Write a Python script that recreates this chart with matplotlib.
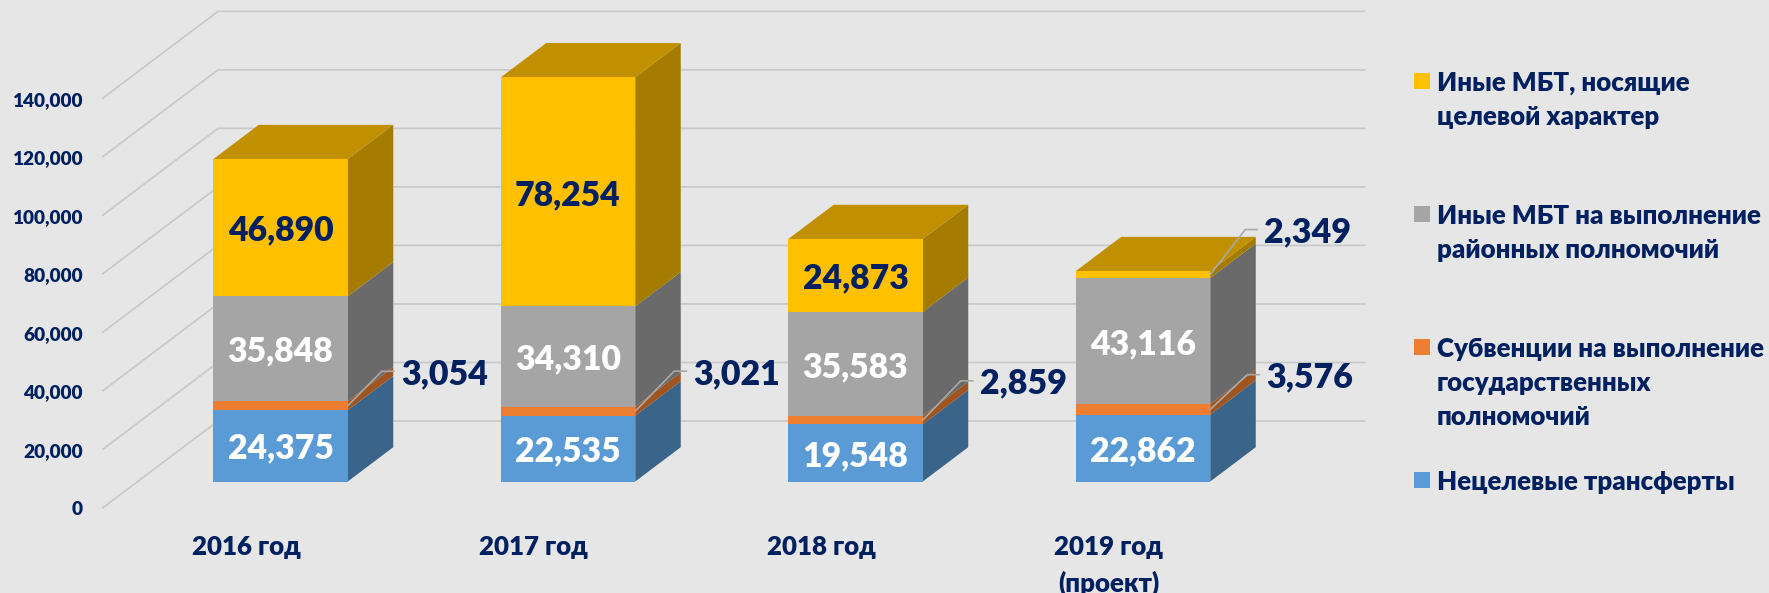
import matplotlib
matplotlib.use("Agg")
import matplotlib.pyplot as plt

FONT = "Lato"
WEIGHT = 800
plt.rcParams["font.family"] = [FONT, "Open Sans", "DejaVu Sans"]

# ---------- data ----------
years = ["2016 год", "2017 год", "2018 год", "2019 год\n(проект)"]
netselevye = [24375, 22535, 19548, 22862]
subventsii = [3054, 3021, 2859, 3576]
rayonnye = [35848, 34310, 35583, 43116]
tselevye = [46890, 78254, 24873, 2349]
y_ticks = [0, 20000, 40000, 60000, 80000, 100000, 120000, 140000]

series = [netselevye, subventsii, rayonnye, tselevye]
front_colors = ["#5B9BD5", "#ED7D31", "#A5A5A5", "#FFC000"]
side_colors = ["#3A648A", "#9E5520", "#6A6A6A", "#A57C00"]
top_color = "#C09000"
label_colors = ["white", None, "white", "#002060"]
NAVY = "#002060"
BG = "#E6E6E6"
GRID = "#C9C9C9"
LEADER = "#A9A9A9"

legend_items = [
    ("#FFC000", ["Иные МБТ, носящие", "целевой характер"], 81),
    ("#A5A5A5", ["Иные МБТ на выполнение", "районных полномочий"], 214),
    ("#ED7D31", ["Субвенции на выполнение", "государственных", "полномочий"], 347),
    ("#5B9BD5", ["Нецелевые трансферты"], 480),
]

# ---------- layout (pixels of the 1769x593 picture) ----------
W, H = 1769, 593
X0, XSTEP = 280.5, 287.5      # first bar centre, bar spacing
Y0, PX_PER_UNIT = 481.5, 0.002926
BAR_W = 134.5 / XSTEP
DX, DY = 45.5 / XSTEP, 34.3 / PX_PER_UNIT   # depth vector in data units
WALL_LEFT = (137.7 - X0) / XSTEP
WALL_FRONT, WALL_BACK = -0.781, 1.764
WALL_RIGHT = (1365.5 - X0) / XSTEP

fig = plt.figure(figsize=(W / 100, H / 100), dpi=100, facecolor=BG)
ax = fig.add_axes([0, 0, 1, 1])
ax.set_xlim(-X0 / XSTEP, (W - X0) / XSTEP)
ax.set_ylim((Y0 - H) / PX_PER_UNIT, Y0 / PX_PER_UNIT)
ax.axis("off")


def px(dx_px=0.0, dy_px=0.0):
    """Convert pixel offsets to data offsets (y pixels grow downwards)."""
    return dx_px / XSTEP, -dy_px / PX_PER_UNIT


def proj(x, v, d=0.0):
    return x + d * DX, v + d * DY


# gridlines on the side and back walls
for t in y_ticks:
    a = proj(WALL_LEFT, t, WALL_FRONT)
    b = proj(WALL_LEFT, t, WALL_BACK)
    ax.plot([a[0], b[0], WALL_RIGHT], [a[1], b[1], b[1]], color=GRID, lw=1.25,
            solid_capstyle="butt", zorder=1)
    ox, oy = px(-19.5, 0)
    ax.text(a[0] + ox, a[1], f"{t:,}", ha="right", va="center_baseline", color=NAVY,
            fontsize=13.7, fontweight=WEIGHT, zorder=5)

# 3D stacked bars
for i, year in enumerate(years):
    l, r = i - BAR_W / 2, i + BAR_W / 2
    base = 0
    for s, vals in enumerate(series):
        v = vals[i]
        top = base + v
        ax.fill(*zip(proj(r, base), proj(r, base, 1), proj(r, top, 1), proj(r, top)),
                color=side_colors[s], lw=0, zorder=2)
        ax.fill([l, r, r, l], [base, base, top, top], color=front_colors[s], lw=0, zorder=3)
        if label_colors[s] and v > 5000:
            ax.text(i, base + v / 2, f"{v:,}", ha="center", va="center_baseline",
                    color=label_colors[s], fontsize=24.3, fontweight=WEIGHT, zorder=6)
        base = top
    ax.fill(*zip(proj(l, base), proj(r, base), proj(r, base, 1), proj(l, base, 1)),
            color=top_color, lw=0, zorder=2)

    # category labels
    cat_x = i - 34.5 / XSTEP
    for k, line in enumerate(year.split("\n")):
        _, oy = px(0, 36 * k)
        ax.text(cat_x, -(545 - Y0) / PX_PER_UNIT + oy, line, ha="center", va="center_baseline",
                color=NAVY, fontsize=18.6, fontweight=WEIGHT, zorder=5)

# leader-line callouts: (series, bar, elbow dx px, elbow rise px, label dx px)
callouts = [(1, 0, 34, 34.4, 97), (1, 1, 39, 40, 101.5), (1, 2, 38, 39.3, 100.5),
            (1, 3, 37, 34.7, 99.7), (3, 3, 35, 45, 97.5)]
for s, i, edx, rise, ldx in callouts:
    v = series[s][i]
    below = sum(series[k][i] for k in range(s))
    sx, sy = i + BAR_W / 2, below + v / 2
    ex, ey = px(edx, -rise)
    fx, _ = px(edx + 12, 0)
    lx, _ = px(ldx, 0)
    ax.plot([sx, sx + ex, sx + fx], [sy, sy + ey, sy + ey], color=LEADER, lw=1.2,
            solid_joinstyle="miter", zorder=4)
    ax.text(sx + lx, sy + ey, f"{v:,}", ha="center", va="center_baseline", color=NAVY,
            fontsize=24.5, fontweight=WEIGHT, zorder=6)

# legend
SW = 16
LEG_X = (1414 - X0) / XSTEP
TXT_X = (1437 - X0) / XSTEP
for color, lines, yc in legend_items:
    yv = (Y0 - yc) / PX_PER_UNIT
    hw, hh = px(SW, -SW / 2)
    ax.fill([LEG_X, LEG_X + hw, LEG_X + hw, LEG_X], [yv - hh, yv - hh, yv + hh, yv + hh],
            color=color, lw=0, zorder=5)
    for k, line in enumerate(lines):
        ax.text(TXT_X, (Y0 - yc - 34 * k) / PX_PER_UNIT, line, ha="left", va="center_baseline",
                color=NAVY, fontsize=18.6, fontweight=WEIGHT, zorder=5)

fig.savefig("out.png", dpi=100, facecolor=BG)
